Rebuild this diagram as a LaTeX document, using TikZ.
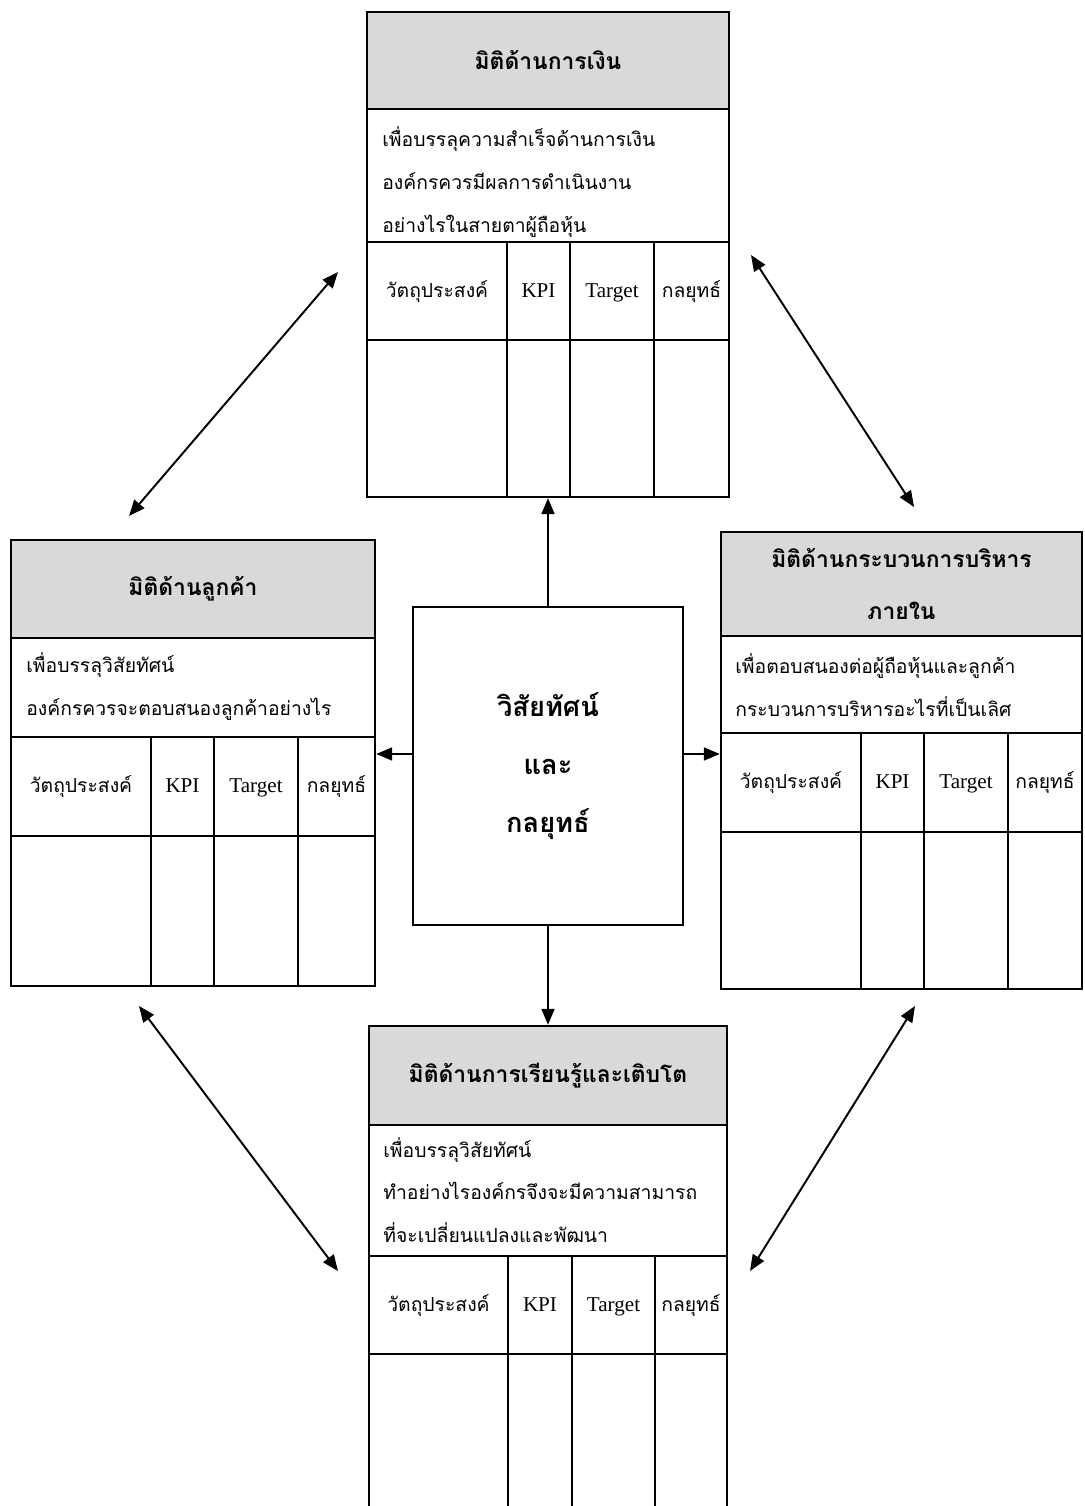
\documentclass[tikz,border=0pt]{standalone}
\usepackage{fontspec}
\setmainfont{Liberation Serif}
\newfontfamily\thai[Script=Thai]{Loma}
\usetikzlibrary{arrows.meta}

\begin{document}
\begin{tikzpicture}[x=0.02cm,y=-0.02cm,
	>={Triangle[length=0.32cm,width=0.26cm]},
	box/.style={draw,line width=1.4pt,inner sep=0pt},
	head/.style={box,fill=black!15,align=center,font=\thai\bfseries\fontsize{13}{29.5}\selectfont},
	desc/.style={anchor=west,align=left,inner sep=0pt,font=\thai\fontsize{11}{24.4}\selectfont},
	col/.style={inner sep=0pt,text height=9pt,text depth=2pt,font=\thai\fontsize{11}{13}\selectfont},
	lat/.style={inner sep=0pt,text height=9pt,text depth=2pt,font=\fontsize{12}{14}\selectfont},
	link/.style={line width=1.1pt}]
	\useasboundingbox (0,0) rectangle (1084,1506);
	
	% top: financial
	\node[head,minimum width=7.24cm,minimum height=1.94cm] (finhead) at (548,60.5) {มิติด้านการเงิน};
	\node[box,minimum width=7.24cm,minimum height=9.7cm] (fin) at (548,254.5) {};
	\draw[line width=1.4pt] (367,242) -- (729,242) (367,340) -- (729,340);
	\foreach \x in {507,570,654}
		\draw[line width=1.4pt] (\x,242) -- (\x,497);
	\node[desc] (findesc) at (382,182) {เพื่อบรรลุความสำเร็จด้านการเงิน\\องค์กรควรมีผลการดำเนินงาน\\อย่างไรในสายตาผู้ถือหุ้น};
	\node[col] (finobj) at (437,291) {วัตถุประสงค์};
	\node[lat] (finkpi) at (538.5,291) {KPI};
	\node[lat] (fintgt) at (612,291) {Target};
	\node[col] (finstr) at (691.5,291) {กลยุทธ์};
	
	% left: customer
	\node[head,minimum width=7.28cm,minimum height=1.96cm] (custhead) at (193,589) {มิติด้านลูกค้า};
	\node[box,minimum width=7.28cm,minimum height=8.92cm] (cust) at (193,763) {};
	\draw[line width=1.4pt] (11,737) -- (375,737) (11,836) -- (375,836);
	\foreach \x in {151,214,298}
		\draw[line width=1.4pt] (\x,737) -- (\x,986);
	\node[desc] (custdesc) at (26,687) {เพื่อบรรลุวิสัยทัศน์\\องค์กรควรจะตอบสนองลูกค้าอย่างไร};
	\node[col] (custobj) at (81,786.5) {วัตถุประสงค์};
	\node[lat] (custkpi) at (182.5,786.5) {KPI};
	\node[lat] (custtgt) at (256,786.5) {Target};
	\node[col] (custstr) at (336.5,786.5) {กลยุทธ์};
	
	% right: internal process
	\node[head,minimum width=7.22cm,minimum height=2.08cm] (prochead) at (901.5,584) {มิติด้านกระบวนการบริหาร\\ภายใน};
	\node[box,minimum width=7.22cm,minimum height=9.14cm] (proc) at (901.5,760.5) {};
	\draw[line width=1.4pt] (721,733) -- (1082,733) (721,832) -- (1082,832);
	\foreach \x in {861,924,1008}
		\draw[line width=1.4pt] (\x,733) -- (\x,989);
	\node[desc] (procdesc) at (735,685) {เพื่อตอบสนองต่อผู้ถือหุ้นและลูกค้า\\กระบวนการบริหารอะไรที่เป็นเลิศ};
	\node[col] (procobj) at (791,782.5) {วัตถุประสงค์};
	\node[lat] (prockpi) at (892.5,782.5) {KPI};
	\node[lat] (proctgt) at (966,782.5) {Target};
	\node[col] (procstr) at (1045,782.5) {กลยุทธ์};
	
	% bottom: learning and growth
	\node[head,minimum width=7.16cm,minimum height=1.98cm] (learnhead) at (548,1075.5) {มิติด้านการเรียนรู้และเติบโต};
	\node[box,minimum width=7.16cm,minimum height=10.68cm] (learn) at (548,1293) {};
	\draw[line width=1.4pt] (369,1256) -- (727,1256) (369,1354) -- (727,1354);
	\foreach \x in {508,572,655}
		\draw[line width=1.4pt] (\x,1256) -- (\x,1560);
	\node[desc] (learndesc) at (383,1190) {เพื่อบรรลุวิสัยทัศน์\\ทำอย่างไรองค์กรจึงจะมีความสามารถ\\ที่จะเปลี่ยนแปลงและพัฒนา};
	\node[col] (learnobj) at (438.5,1305) {วัตถุประสงค์};
	\node[lat] (learnkpi) at (540,1305) {KPI};
	\node[lat] (learntgt) at (613.5,1305) {Target};
	\node[col] (learnstr) at (691,1305) {กลยุทธ์};
	
	% centre
	\node[box,line width=1.1pt,minimum width=5.4cm,minimum height=6.36cm,align=center,
		font=\thai\bfseries\fontsize{15.5}{33}\selectfont] (vision) at (548,766) {วิสัยทัศน์\\และ\\กลยุทธ์};
	\coordinate (vl) at ([yshift=0.24cm]vision.west);
	\coordinate (vr) at ([yshift=0.24cm]vision.east);
	
	\draw[link,->] (vision.north) -- (fin.south);
	\draw[link,->] (vision.south) -- (learn.north);
	\draw[link,->] (vl) -- (vl -| cust.east);
	\draw[link,->] (vr) -- (vr -| proc.west);
	
	% diagonal links
	\coordinate (tl1) at (129,516);
	\coordinate (tl2) at (338,272);
	\coordinate (tr1) at (751,255);
	\coordinate (tr2) at (914,507);
	\coordinate (bl1) at (139,1006);
	\coordinate (bl2) at (338,1271);
	\coordinate (br1) at (915,1006);
	\coordinate (br2) at (750,1271);
	\draw[link,<->] (tl1) -- (tl2);
	\draw[link,<->] (tr1) -- (tr2);
	\draw[link,<->] (bl1) -- (bl2);
	\draw[link,<->] (br1) -- (br2);
\end{tikzpicture}
\end{document}
